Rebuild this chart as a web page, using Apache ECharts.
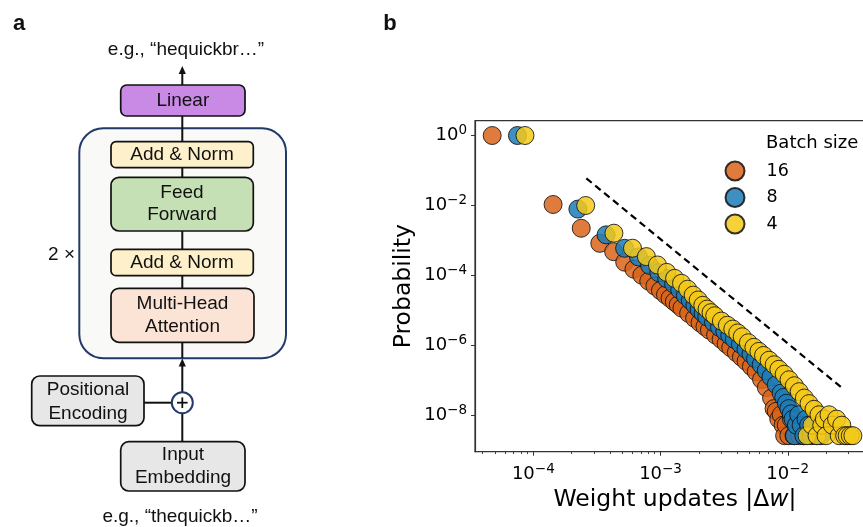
<!DOCTYPE html>
<html><head><meta charset="utf-8">
<script src="https://cdn.jsdelivr.net/npm/echarts@6/dist/echarts.min.js"></script>
<style>html,body{margin:0;padding:0;background:#fff}#c{width:863px;height:527px}</style>
</head><body><div id="c"></div>
<script>
// ---------------- data (panel b) ----------------
const batchSizes = ['16', '8', '4'];
const colors = ['#d9641a', '#1c7db8', '#f5c918'];

const x16 = [4.75e-5, 1.43e-4, 2.38e-4, 3.33e-4, 4.28e-4, 5.23e-4, 6.18e-4, 7.13e-4, 8.08e-4, 9.03e-4, 9.98e-4, 1.093e-3, 1.188e-3, 1.283e-3, 1.378e-3, 1.473e-3, 1.663e-3, 1.853e-3, 2.043e-3, 2.233e-3, 2.423e-3, 2.708e-3, 2.993e-3, 3.278e-3, 3.563e-3, 3.943e-3, 4.323e-3, 4.703e-3, 5.178e-3, 5.653e-3, 6.223e-3, 6.793e-3, 7.458e-3, 7.8e-3, 8.123e-3, 8.5e-3, 8.883e-3, 9.2e-3, 9.45e-3, 9.738e-3, 1.02e-2, 1.069e-2, 1.12e-2, 1.164e-2, 1.24e-2, 1.335e-2];
const y16 = [1.0, 1.07e-2, 2.24e-3, 8.3e-4, 4.79e-4, 2.40e-4, 1.51e-4, 1.02e-4, 6.9e-5, 5.0e-5, 3.72e-5, 2.82e-5, 2.24e-5, 1.78e-5, 1.45e-5, 1.17e-5, 8.3e-6, 6.0e-6, 4.47e-6, 3.47e-6, 2.75e-6, 2.0e-6, 1.51e-6, 1.12e-6, 8.7e-7, 6.3e-7, 4.68e-7, 3.55e-7, 2.51e-7, 1.78e-7, 1.07e-7, 6.3e-8, 3.16e-8, 1.58e-8, 1.32e-8, 7.9e-9, 1.05e-8, 5.3e-9, 2.65e-9, 5.3e-9, 2.65e-9, 7.9e-9, 2.65e-9, 5.3e-9, 2.65e-9, 2.65e-9];

const x8 = [7.5e-5, 2.24e-4, 3.73e-4, 5.22e-4, 6.71e-4, 8.2e-4, 9.69e-4, 1.118e-3, 1.267e-3, 1.416e-3, 1.565e-3, 1.714e-3, 1.863e-3, 2.012e-3, 2.161e-3, 2.31e-3, 2.608e-3, 2.906e-3, 3.204e-3, 3.502e-3, 3.8e-3, 4.247e-3, 4.694e-3, 5.141e-3, 5.588e-3, 6.184e-3, 6.78e-3, 7.376e-3, 8.121e-3, 8.866e-3, 9.3e-3, 9.76e-3, 1.02e-2, 1.065e-2, 1.1e-2, 1.13e-2, 1.17e-2, 1.22e-2, 1.274e-2, 1.34e-2, 1.393e-2, 1.46e-2, 1.527e-2, 1.6e-2, 1.676e-2, 1.825e-2];
const y8 = [1.0, 7.9e-3, 1.45e-3, 6.0e-4, 3.39e-4, 1.95e-4, 1.20e-4, 8.1e-5, 5.75e-5, 3.89e-5, 2.69e-5, 1.95e-5, 1.41e-5, 1.07e-5, 8.3e-6, 6.6e-6, 4.57e-6, 3.31e-6, 2.51e-6, 1.95e-6, 1.51e-6, 1.10e-6, 7.9e-7, 5.75e-7, 4.17e-7, 2.82e-7, 1.91e-7, 1.26e-7, 7.6e-8, 4.37e-8, 3.3e-8, 2.24e-8, 1.58e-8, 1.12e-8, 7.9e-9, 2.65e-9, 5.3e-9, 1.05e-8, 5.3e-9, 2.65e-9, 7.9e-9, 5.3e-9, 2.65e-9, 5.3e-9, 2.65e-9, 2.65e-9];

const x4 = [8.6e-5, 2.58e-4, 4.3e-4, 6.02e-4, 7.74e-4, 9.46e-4, 1.118e-3, 1.29e-3, 1.462e-3, 1.634e-3, 1.806e-3, 1.978e-3, 2.15e-3, 2.322e-3, 2.494e-3, 2.666e-3, 3.01e-3, 3.354e-3, 3.698e-3, 4.042e-3, 4.386e-3, 4.902e-3, 5.418e-3, 5.934e-3, 6.45e-3, 7.138e-3, 7.826e-3, 8.514e-3, 9.374e-3, 1.0234e-2, 1.1266e-2, 1.23e-2, 1.35e-2, 1.42e-2, 1.47e-2, 1.55e-2, 1.61e-2, 1.7e-2, 1.76e-2, 1.85e-2, 1.94e-2, 2.0e-2, 2.11e-2, 2.24e-2, 2.42e-2, 2.54e-2, 2.66e-2, 2.8e-2, 2.93e-2, 3.1e-2, 3.25e-2];
const y4 = [1.0, 1.0e-2, 1.62e-3, 6.03e-4, 3.47e-4, 2.0e-4, 1.23e-4, 8.3e-5, 6.0e-5, 4.07e-5, 2.75e-5, 2.0e-5, 1.41e-5, 1.10e-5, 8.7e-6, 7.1e-6, 5.0e-6, 3.8e-6, 2.95e-6, 2.29e-6, 1.78e-6, 1.2e-6, 8.9e-7, 6.8e-7, 5.2e-7, 3.8e-7, 2.82e-7, 2.09e-7, 1.51e-7, 1.05e-7, 7.1e-8, 4.8e-8, 3.16e-8, 2.65e-9, 2.19e-8, 5.3e-9, 1.51e-8, 2.65e-9, 1.05e-8, 5.3e-9, 7.9e-9, 2.65e-9, 1.05e-8, 5.3e-9, 7.9e-9, 2.65e-9, 5.3e-9, 2.65e-9, 2.65e-9, 2.65e-9, 2.65e-9];

// reference slope line (dashed)
const refX = [2.61e-4, 2.735e-2];
const refY = [5.98e-2, 5.71e-8];

// axis ticks
const xMajorTicks = [1e-4, 1e-3, 1e-2];
const xMinorTicks = [4e-5, 5e-5, 6e-5, 7e-5, 8e-5, 9e-5, 2e-4, 3e-4, 4e-4, 5e-4, 6e-4, 7e-4, 8e-4, 9e-4, 2e-3, 3e-3, 4e-3, 5e-3, 6e-3, 7e-3, 8e-3, 9e-3, 2e-2, 3e-2, 4e-2];
const yMajorTicks = [1e0, 1e-2, 1e-4, 1e-6, 1e-8];
const xRange = [3.48e-5, 4.85e-2];
const yRange = [9.25e-10, 2.65];

// ---------------- panel a diagram (graphic) ----------------
const FONT_A = '"Liberation Sans", Arial, sans-serif';
const G = [];
function rbox(x, y, w, h, r, fill, stroke, lw) {
  G.push({ type: 'rect', shape: { x, y, width: w, height: h, r }, style: { fill, stroke, lineWidth: lw } });
}
function seg(x1, y1, x2, y2, color, lw) {
  G.push({ type: 'line', shape: { x1, y1, x2, y2 }, style: { stroke: color || '#111', lineWidth: lw || 2 } });
}
function head(x, y) {
  G.push({ type: 'polygon', shape: { points: [[x, y], [x - 3.6, y + 8], [x + 3.6, y + 8]] }, style: { fill: '#111' } });
}
function txt(x, y, text, extra) {
  G.push({ type: 'text', x, y, style: Object.assign({ text, fill: '#111', fontSize: 19, fontFamily: FONT_A, align: 'center', verticalAlign: 'middle' }, extra || {}) });
}
const BORDER = '#111';
const NAVY = '#22396a';
rbox(79.3, 128.3, 206.7, 230, 24, '#f9f9f7', NAVY, 2);
seg(182.3, 73, 182.3, 85);
head(182.3, 66);
seg(182.3, 116, 182.3, 142);
seg(182.3, 168, 182.3, 177);
seg(182.3, 231, 182.3, 249);
seg(182.3, 276, 182.3, 288);
seg(182.3, 342, 182.3, 358);
seg(182.3, 392, 182.3, 365);
head(182.3, 358.5);
seg(182.3, 413, 182.3, 442);
seg(144, 402.7, 172, 402.7);
rbox(120.7, 85, 124.3, 31, 6, '#c98ae6', BORDER, 1.7);
rbox(111, 141.7, 142.3, 26, 5, '#fdf0ca', BORDER, 1.7);
rbox(111, 177.3, 142.3, 53.7, 8, '#c6e0b5', BORDER, 1.7);
rbox(111, 249.3, 142.3, 26.4, 5, '#fdf0ca', BORDER, 1.7);
rbox(111, 288.3, 143, 54, 8, '#fbe4d6', BORDER, 1.7);
rbox(31.7, 376, 112.3, 49.7, 8, '#e7e7e7', BORDER, 1.7);
rbox(120.7, 441.7, 124.3, 49.3, 8, '#e7e7e7', BORDER, 1.7);
G.push({ type: 'circle', shape: { cx: 182.3, cy: 402.7, r: 10.5 }, style: { fill: '#fff', stroke: NAVY, lineWidth: 2 } });
seg(177, 402.7, 187.6, 402.7, '#111', 1.8);
seg(182.3, 397.4, 182.3, 408, '#111', 1.8);

txt(19, 24, 'a', { fontWeight: 'bold', fontSize: 22 });
txt(390, 24, 'b', { fontWeight: 'bold', fontSize: 22 });
txt(186, 50, 'e.g., \u201chequickbr\u2026\u201d');
txt(182.8, 100.5, 'Linear');
txt(182, 155, 'Add & Norm');
txt(182, 204, 'Feed\nForward', { lineHeight: 21.7 });
txt(182, 262.5, 'Add & Norm');
txt(182.5, 315.5, 'Multi-Head\nAttention', { lineHeight: 23 });
txt(75, 255, '2 \u00d7', { align: 'right' });
txt(88, 401.5, 'Positional\nEncoding', { lineHeight: 24 });
txt(183, 466.5, 'Input\nEmbedding', { lineHeight: 23 });
txt(180, 517, 'e.g., \u201cthequickb\u2026\u201d');
G.push({ type: 'text', x: 766, y: 143, style: { text: 'Batch size', fill: '#000', fontSize: 18, fontFamily: 'DejaVu Sans', align: 'left', verticalAlign: 'middle' } });

// ---------------- chart ----------------
const FONT_B = 'DejaVu Sans';
const AX = '#333';
function powLabel(v) {
  const e = Math.round(Math.log10(v));
  return '{b|10}{s|' + (e < 0 ? '\u2212' + (-e) : String(e)) + '}';
}
const labelRich = {
  b: { fontSize: 18, fontFamily: FONT_B, color: '#000', lineHeight: 24 },
  s: { fontSize: 13.5, fontFamily: FONT_B, color: '#000', lineHeight: 12, verticalAlign: 'top' }
};
function zip(xs, ys) { return xs.map((x, i) => [x, ys[i]]); }
const seriesData = [zip(x16, y16), zip(x8, y8), zip(x4, y4)];

const gridPos = { left: 475, top: 120.7, width: 400, height: 331, outerBoundsMode: 'none', containLabel: false };
const option = {
  animation: false,
  backgroundColor: '#fff',
  graphic: G,
  grid: [
    Object.assign({ show: true, borderColor: AX, borderWidth: 1.2, backgroundColor: 'transparent' }, gridPos),
    Object.assign({ show: false }, gridPos)
  ],
  legend: {
    data: batchSizes, orient: 'vertical', left: 724.5, top: 160.5, padding: 0,
    itemWidth: 19, itemHeight: 19, itemGap: 5.5, icon: 'circle', selectedMode: false,
    textStyle: { fontSize: 17.5, fontFamily: FONT_B, color: '#000', lineHeight: 19, padding: [0, 0, 0, 17] }
  },
  xAxis: [{
    type: 'log', logBase: 10, gridIndex: 0, min: xRange[0], max: xRange[1],
    name: 'Weight updates |\u0394{i|w}|', nameLocation: 'middle', nameGap: 32,
    nameTextStyle: { fontSize: 23.5, fontFamily: FONT_B, color: '#000', rich: { i: { fontSize: 23.5, fontFamily: FONT_B, fontStyle: 'italic', color: '#000' } } },
    axisLine: { show: true, lineStyle: { color: AX, width: 1.2 } },
    axisTick: { show: true, length: 4, lineStyle: { color: AX, width: 1 }, customValues: xMajorTicks },
    axisLabel: { show: true, margin: 10.5, customValues: xMajorTicks, formatter: powLabel, rich: labelRich },
    splitLine: { show: false }, minorTick: { show: false }
  }, {
    type: 'log', logBase: 10, gridIndex: 1, min: xRange[0], max: xRange[1], position: 'bottom',
    axisLine: { show: false },
    axisTick: { show: true, length: 2.4, lineStyle: { color: AX, width: 0.9 }, customValues: xMinorTicks },
    axisLabel: { show: false }, splitLine: { show: false }
  }],
  yAxis: [{
    type: 'log', logBase: 10, gridIndex: 0, min: yRange[0], max: yRange[1],
    name: 'Probability', nameLocation: 'middle', nameGap: 59,
    nameTextStyle: { fontSize: 23.5, fontFamily: FONT_B, color: '#000' },
    axisLine: { show: true, lineStyle: { color: AX, width: 1.2 } },
    axisTick: { show: true, length: 4, lineStyle: { color: AX, width: 1 }, customValues: yMajorTicks },
    axisLabel: { show: true, margin: 8, customValues: yMajorTicks, formatter: powLabel, rich: labelRich },
    splitLine: { show: false }
  }, {
    type: 'log', logBase: 10, gridIndex: 1, min: yRange[0], max: yRange[1], show: false
  }],
  series: [
    ...batchSizes.map((name, i) => ({
      name, type: 'scatter', xAxisIndex: 0, yAxisIndex: 0,
      data: seriesData[i], symbol: 'circle', symbolSize: 18,
      itemStyle: { color: colors[i], borderColor: '#111', borderWidth: 1, opacity: 0.85 },
      emphasis: { disabled: true }, z: 2 + i
    })),
    {
      name: 'ref', type: 'line', xAxisIndex: 0, yAxisIndex: 0, data: zip(refX, refY),
      symbol: 'none', lineStyle: { color: '#000', width: 2.2, type: [7, 4.5] }, z: 1, silent: true
    }
  ]
};
const chart = echarts.init(document.getElementById('c'), null, { renderer: 'canvas' });
chart.setOption(option);
</script>
</body></html>
